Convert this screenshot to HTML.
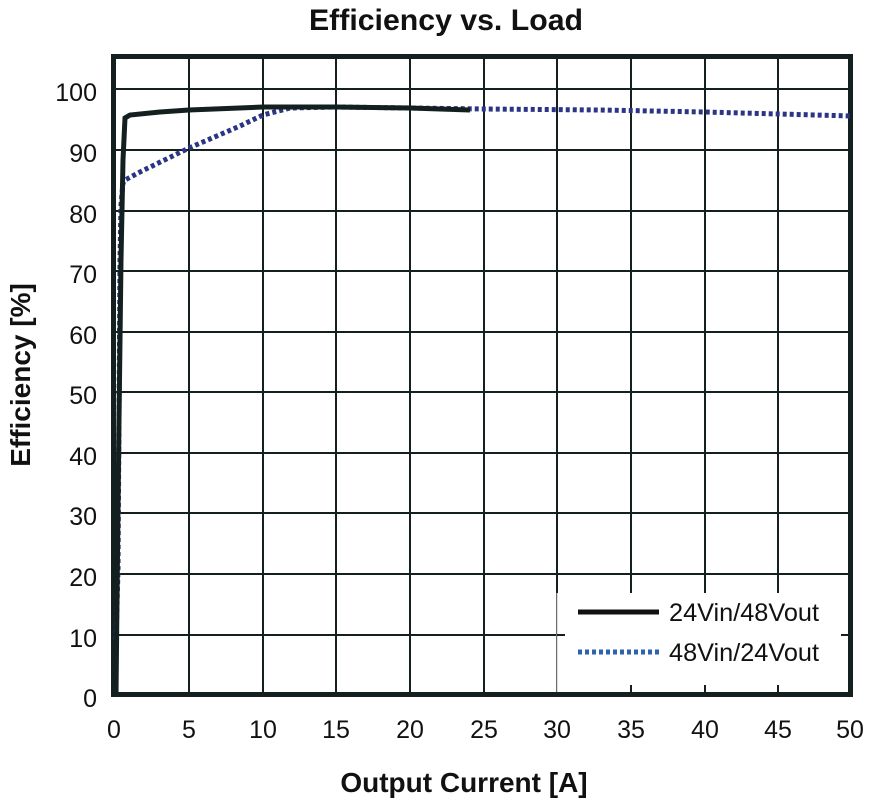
<!DOCTYPE html>
<html><head><style>body{margin:0;background:#fff}svg{display:block}</style></head>
<body>
<svg width="877" height="800" xmlns="http://www.w3.org/2000/svg" font-family="Liberation Sans, sans-serif">
<text x="446" y="30" text-anchor="middle" font-size="30" font-weight="bold" fill="#111" textLength="274" lengthAdjust="spacingAndGlyphs">Efficiency vs. Load</text>
<g stroke="#142020" stroke-width="2">
<line x1="189" y1="57" x2="189" y2="697"/><line x1="263" y1="57" x2="263" y2="697"/>
<line x1="336" y1="57" x2="336" y2="697"/><line x1="410" y1="57" x2="410" y2="697"/>
<line x1="484" y1="57" x2="484" y2="697"/><line x1="557" y1="57" x2="557" y2="697"/>
<line x1="631" y1="57" x2="631" y2="697"/><line x1="705" y1="57" x2="705" y2="697"/>
<line x1="778" y1="57" x2="778" y2="697"/>
<line x1="114" y1="89" x2="852" y2="89"/><line x1="114" y1="150" x2="852" y2="150"/>
<line x1="114" y1="211" x2="852" y2="211"/><line x1="114" y1="271" x2="852" y2="271"/>
<line x1="114" y1="332" x2="852" y2="332"/><line x1="114" y1="392" x2="852" y2="392"/>
<line x1="114" y1="453" x2="852" y2="453"/><line x1="114" y1="513" x2="852" y2="513"/>
<line x1="114" y1="574" x2="852" y2="574"/><line x1="114" y1="635" x2="852" y2="635"/>
</g>
<rect x="557" y="593" width="293" height="102" fill="#fff"/>
<line x1="557" y1="593" x2="557" y2="695" stroke="#bbb" stroke-width="1"/>
<g stroke="#142020" stroke-width="2">
<line x1="631" y1="695" x2="631" y2="685"/><line x1="705" y1="695" x2="705" y2="685"/><line x1="778" y1="695" x2="778" y2="685"/>
<line x1="631" y1="593" x2="631" y2="587"/><line x1="705" y1="593" x2="705" y2="587"/>
<line x1="557" y1="635" x2="565" y2="635"/><line x1="841" y1="635" x2="852" y2="635"/>
</g>
<rect x="113.5" y="56.5" width="737" height="638" fill="none" stroke="#142020" stroke-width="5"/>
<polyline fill="none" stroke="#2b3585" stroke-width="5" stroke-dasharray="4,3" points="116,640 118,570 120,260 121,205 123,183 125,180 140,172 189,148 240,126 263,115 290,108 336,107 484,109 600,110 705,112 852,116"/>
<polyline fill="none" stroke="#142020" stroke-width="5" points="116,695 117,600 119,420 121,260 123,160 125,118 130,115 160,112 189,110 263,107 336,107 410,108 470,110"/>
<line x1="578" y1="612" x2="659" y2="612" stroke="#111" stroke-width="5"/>
<line x1="578" y1="652" x2="659" y2="652" stroke="#2d62b0" stroke-width="5" stroke-dasharray="4,3"/>
<g font-size="25" fill="#111">
<text x="669" y="621" textLength="150" lengthAdjust="spacingAndGlyphs">24Vin/48Vout</text><text x="669" y="661" textLength="150" lengthAdjust="spacingAndGlyphs">48Vin/24Vout</text>
</g>
<g font-size="25" fill="#111" text-anchor="end">
<text x="97" y="101">100</text><text x="97" y="162">90</text><text x="97" y="223">80</text>
<text x="97" y="283">70</text><text x="97" y="344">60</text><text x="97" y="404">50</text>
<text x="97" y="465">40</text><text x="97" y="525">30</text><text x="97" y="586">20</text>
<text x="97" y="647">10</text><text x="97" y="707">0</text>
</g>
<g font-size="25" fill="#111" text-anchor="middle">
<text x="114" y="738">0</text><text x="189" y="738">5</text><text x="263" y="738">10</text>
<text x="336" y="738">15</text><text x="410" y="738">20</text><text x="484" y="738">25</text>
<text x="557" y="738">30</text><text x="631" y="738">35</text><text x="705" y="738">40</text>
<text x="778" y="738">45</text><text x="850" y="738">50</text>
</g>
<text x="464" y="792" text-anchor="middle" font-size="28" font-weight="bold" fill="#111">Output Current [A]</text>
<text transform="translate(30,375) rotate(-90)" text-anchor="middle" font-size="28" font-weight="bold" fill="#111">Efficiency [%]</text>
</svg>
</body></html>
